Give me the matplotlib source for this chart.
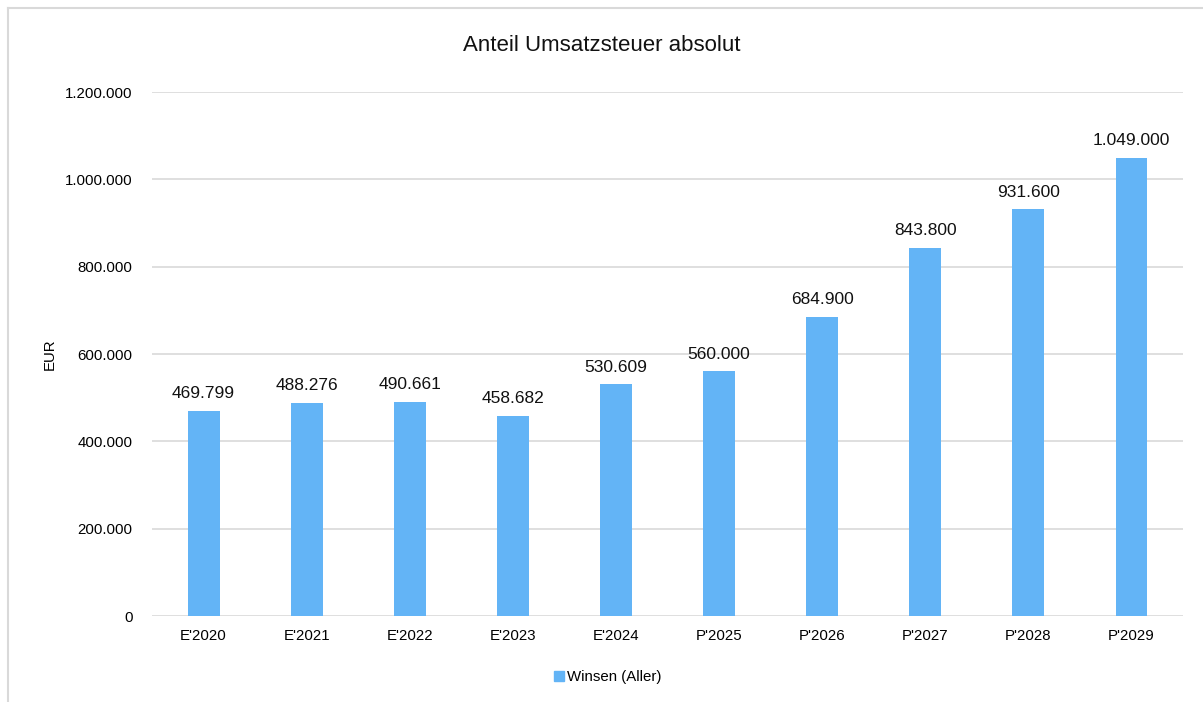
import matplotlib
matplotlib.use("Agg")
import matplotlib.pyplot as plt
from matplotlib.lines import Line2D
from matplotlib.patches import Patch
import numpy as np

plt.rcParams['font.family'] = ['Liberation Sans', 'DejaVu Sans']

categories = ["E'2020", "E'2021", "E'2022", "E'2023", "E'2024",
              "P'2025", "P'2026", "P'2027", "P'2028", "P'2029"]
values = [469799, 488276, 490661, 458682, 530609,
          560000, 684900, 843800, 931600, 1049000]
series_name = "Winsen (Aller)"
yticks = [0, 200000, 400000, 600000, 800000, 1000000, 1200000]


def de_fmt(v):
    return f"{int(v):,}".replace(",", ".")


def main():
    fig = plt.figure(figsize=(12.03, 7.02), dpi=100)
    ax = fig.add_axes([0.1264, 0.1225, 0.8570, 0.7464])

    color = "#63B4F6"
    x = np.arange(len(categories))
    bars = ax.bar(x, values, width=0.31, color=color, zorder=3)

    for b, v in zip(bars, values):
        ax.text(b.get_x() + b.get_width() / 2, v + 22000, de_fmt(v),
                ha="center", va="bottom", fontsize=12.5, color="#111111")

    ax.set_xlim(-0.5, len(categories) - 0.5)
    ax.set_ylim(0, 1200000)
    ax.set_yticks(yticks)
    ax.set_yticklabels([de_fmt(t) for t in yticks], fontsize=10.8)
    ax.set_xticks(x)
    ax.set_xticklabels(categories, fontsize=10.8)
    ax.tick_params(length=0, pad=9)
    ax.tick_params(axis="y", pad=14)
    ax.grid(axis="y", color="#d9d9d9", linewidth=1.2, zorder=0)
    for s in ax.spines.values():
        s.set_visible(False)
    ax.set_ylabel("EUR", fontsize=10.8, labelpad=6)

    fig.text(0.5, 0.935, "Anteil Umsatzsteuer absolut", ha="center",
             va="center", fontsize=16, color="#111111")

    fig.legend(handles=[Patch(color=color, label=series_name)],
               loc="center", bbox_to_anchor=(0.505, 0.035), frameon=False,
               fontsize=10.8, handlelength=0.7, handleheight=0.7,
               handletextpad=0.2)

    # outer chart frame: only top and left edges are visible
    bx, by = 7.5 / 1203, 1 - 7.5 / 702
    fig.add_artist(Line2D([bx, 1], [by, by], transform=fig.transFigure,
                          color="#d9d9d9", linewidth=1.5))
    fig.add_artist(Line2D([bx, bx], [0, by], transform=fig.transFigure,
                          color="#d9d9d9", linewidth=1.5))

    fig.savefig("out.png", dpi=100)
    plt.close(fig)


if __name__ == "__main__":
    main()
